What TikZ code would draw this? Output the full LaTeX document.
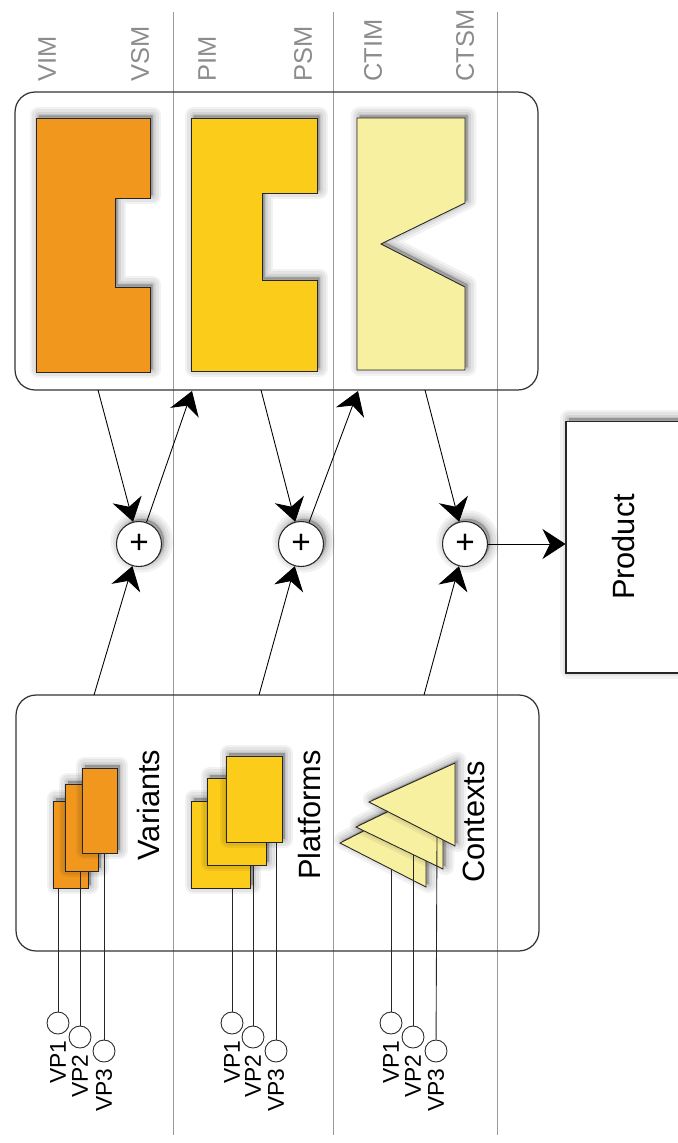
\documentclass[tikz,border=0pt]{standalone}
\usepackage{fontspec}
\setmainfont{Liberation Sans}
\usepackage{xcolor}
\usepackage{tikz}
\usetikzlibrary{arrows.meta,shadows}
\definecolor{VarC}{HTML}{F2971E}
\definecolor{PlatC}{HTML}{FCCC1A}
\definecolor{CtxC}{HTML}{F7F0A0}
\definecolor{LaneC}{HTML}{9A9A9A}
\definecolor{TagC}{HTML}{8C8C8C}

\begin{document}
\begin{tikzpicture}[x=0.02cm, y=-0.02cm,
  softshadow/.style={%
    general shadow={draw=black, fill=black, opacity=0.05, line width=10pt, line join=round, shadow xshift=1.5pt, shadow yshift=1.5pt},
    general shadow={draw=black, fill=black, opacity=0.06, line width=7pt, line join=round, shadow xshift=1.5pt, shadow yshift=1.5pt},
    general shadow={draw=black, fill=black, opacity=0.07, line width=4pt, line join=round, shadow xshift=1.5pt, shadow yshift=1.5pt},
    general shadow={draw=black, fill=black, opacity=0.08, line width=1.5pt, line join=round, shadow xshift=1.5pt, shadow yshift=1.5pt}},
  lane/.style={draw=LaneC, line width=0.5pt},
  group/.style={draw=black!80, line width=0.7pt, rounded corners=0.4cm, minimum width=10.46cm, inner sep=0pt},
  part/.style={draw=black!85, line width=0.5pt, softshadow},
  tag/.style={rotate=90, anchor=west, inner sep=0pt, text=TagC, font=\fontsize{14.5}{16}\selectfont},
  title/.style={rotate=90, inner sep=0pt, font=\fontsize{17.5}{20}\selectfont},
  weave/.style={circle, draw=black!85, fill=white, line width=0.6pt, minimum size=0.9cm, inner sep=0pt, softshadow, font=\fontsize{19}{20}\selectfont},
  prodbox/.style={draw=black!85, fill=white, line width=0.6pt, minimum width=2.32cm, minimum height=5.04cm, softshadow, font=\fontsize{17.5}{20}\selectfont},
  vp/.style={circle, draw=black!85, line width=0.5pt, minimum size=0.44cm, inner sep=0pt},
  vplabel/.style={rotate=90, anchor=east, inner sep=0pt, font=\fontsize{13}{14}\selectfont},
  flow/.style={draw=black, line width=0.5pt, -{Stealth[length=0.46cm, width=0.6cm, inset=0.15cm]}},
  wire/.style={draw=black!85, line width=0.5pt}]%
\useasboundingbox (0,0) rectangle (677,1143);%
% lanes
\foreach \x in {173,333,497} {\draw[lane] (\x,12) -- (\x,1135);}%
\node[tag] (vim) at (47,82) {VIM};%
\node[tag] (vsm) at (140,82) {VSM};%
\node[tag] (pim) at (207,82) {PIM};%
\node[tag] (psm) at (303,82) {PSM};%
\node[tag] (ctim) at (373,82) {CTIM};%
\node[tag] (ctsm) at (465,82) {CTSM};%
% models
\node[group, minimum height=5.96cm] (models) at (276.5,241) {};%
\draw[part, fill=VarC] (36,118) -- (150,118) -- (150,198) -- (115,198) -- (115,287) -- (150,287) -- (150,372) -- (36,372) -- cycle;%
\draw[part, fill=PlatC] (191,118) -- (317,118) -- (317,193) -- (262,193) -- (262,280) -- (317,280) -- (317,371) -- (191,371) -- cycle;%
\draw[part, fill=CtxC] (357,118) -- (465,118) -- (465,203) -- (381,244) -- (465,287) -- (465,370) -- (357,370) -- cycle;%
% sources
\node[group, minimum height=5.12cm] (sources) at (277.5,823) {};%
\draw[part, fill=VarC] (53,801) rectangle (88,888);%
\draw[part, fill=VarC] (65,784) rectangle (98,871);%
\draw[part, fill=VarC] (82,768) rectangle (117,853);%
\draw[part, fill=PlatC] (191,801) rectangle (250,888);%
\draw[part, fill=PlatC] (207,778) rectangle (266,865);%
\draw[part, fill=PlatC] (226,756) rectangle (282,842);%
\draw[part, fill=CtxC] (340,843) -- (426,799) -- (426,887) -- cycle;%
\draw[part, fill=CtxC] (356,827) -- (443,785) -- (443,869) -- cycle;%
\draw[part, fill=CtxC] (369,802) -- (455,763) -- (455,846) -- cycle;%
\node[title] (variants) at (149,805) {Variants};%
\node[title] (platforms) at (310,815) {Platforms};%
\node[title] (contexts) at (474,822) {Contexts};%
% variation points
\coordinate (va) at (58,888);%
\coordinate (vb) at (80,871);%
\coordinate (vc) at (104,853);%
\coordinate (pa) at (232,888);%
\coordinate (pb) at (253,865);%
\coordinate (pc) at (276,842);%
\coordinate (ca) at (391,869);%
\coordinate (cb) at (413,855);%
\coordinate (cc) at (437,837);%
\node[vp] (var1) at (58,1023) {};%
\node[vp] (var2) at (80,1037) {};%
\node[vp] (var3) at (104,1051) {};%
\node[vp] (plat1) at (232,1023) {};%
\node[vp] (plat2) at (253,1037) {};%
\node[vp] (plat3) at (276,1051) {};%
\node[vp] (ctx1) at (391,1023) {};%
\node[vp] (ctx2) at (413,1037) {};%
\node[vp] (ctx3) at (436,1051) {};%
\draw[wire] (va) -- (var1);%
\draw[wire] (vb) -- (var2);%
\draw[wire] (vc) -- (var3);%
\draw[wire] (pa) -- (plat1);%
\draw[wire] (pb) -- (plat2);%
\draw[wire] (pc) -- (plat3);%
\draw[wire] (ca) -- (ctx1);%
\draw[wire] (cb) -- (ctx2);%
\draw[wire] (cc) -- (ctx3);%
\node[vplabel] (var1l) at ([yshift=-0.12cm]var1.south) {VP1};%
\node[vplabel] (var2l) at ([yshift=-0.12cm]var2.south) {VP2};%
\node[vplabel] (var3l) at ([yshift=-0.12cm]var3.south) {VP3};%
\node[vplabel] (plat1l) at ([yshift=-0.12cm]plat1.south) {VP1};%
\node[vplabel] (plat2l) at ([yshift=-0.12cm]plat2.south) {VP2};%
\node[vplabel] (plat3l) at ([yshift=-0.12cm]plat3.south) {VP3};%
\node[vplabel] (ctx1l) at ([yshift=-0.12cm]ctx1.south) {VP1};%
\node[vplabel] (ctx2l) at ([yshift=-0.12cm]ctx2.south) {VP2};%
\node[vplabel] (ctx3l) at ([yshift=-0.12cm]ctx3.south) {VP3};%
% weaving
\node[weave] (p1) at (139,544) {+};%
\node[weave] (p2) at (301,544) {+};%
\node[weave] (p3) at (465,544) {+};%
\node[prodbox] (product) at (624,547) {\rotatebox{90}{Product}};%
\coordinate (vsmout) at (98,390);%
\coordinate (pimin) at (192,391);%
\coordinate (psmout) at (261,390);%
\coordinate (ctimin) at (358,391);%
\coordinate (ctsmout) at (425,390);%
\coordinate (varout) at (94,695);%
\coordinate (platout) at (259,695);%
\coordinate (ctxout) at (424,695);%
\draw[flow] (vsmout) -- (p1);%
\draw[flow] (p1) -- (pimin);%
\draw[flow] (psmout) -- (p2);%
\draw[flow] (p2) -- (ctimin);%
\draw[flow] (ctsmout) -- (p3);%
\draw[flow] (varout) -- (p1);%
\draw[flow] (platout) -- (p2);%
\draw[flow] (ctxout) -- (p3);%
\draw[flow] (p3) -- (p3 -| product.west);%
\end{tikzpicture}
\end{document}
